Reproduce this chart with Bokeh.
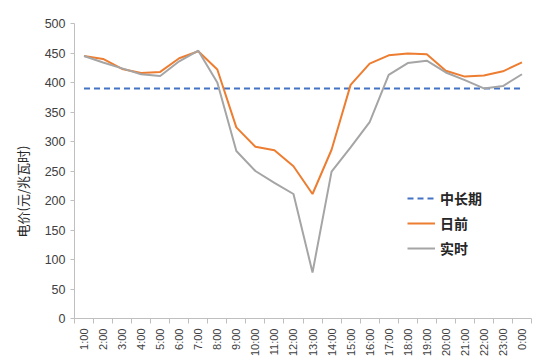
from bokeh.plotting import figure
from bokeh.models import FixedTicker, Legend, LegendItem, Range1d, Title
from bokeh.embed import file_html
from bokeh.resources import INLINE

hours = ["1:00", "2:00", "3:00", "4:00", "5:00", "6:00", "7:00", "8:00", "9:00", "10:00",
         "11:00", "12:00", "13:00", "14:00", "15:00", "16:00", "17:00", "18:00", "19:00",
         "20:00", "21:00", "22:00", "23:00", "0:00"]
mid_long = [390] * 24
day_ahead = [445, 440, 423, 416, 418, 441, 453, 422, 324, 291, 285, 258, 211, 286, 396,
             432, 446, 449, 448, 420, 410, 412, 419, 434]
real_time = [445, 434, 424, 414, 411, 436, 454, 400, 284, 250, 230, 211, 78, 249, 290,
             333, 413, 433, 437, 417, 404, 390, 394, 414]
y_ticks = [0, 50, 100, 150, 200, 250, 300, 350, 400, 450, 500]

xs = list(range(1, len(hours) + 1))

p = figure(width=537, height=360, output_backend="svg", toolbar_location=None,
           x_range=Range1d(0.5, 24.5), y_range=Range1d(0, 500),
           min_border_left=73, min_border_right=6, min_border_top=23, min_border_bottom=42)
p.outline_line_color = None
p.xgrid.visible = False
p.ygrid.visible = False

r1 = p.line(xs, mid_long, line_color="#4472C4", line_width=2, line_dash="6 4")
r2 = p.line(xs, day_ahead, line_color="#ED7D31", line_width=2)
r3 = p.line(xs, real_time, line_color="#A5A5A5", line_width=2)

FONT = "Liberation Sans"
p.xaxis.ticker = FixedTicker(ticks=xs, minor_ticks=[x - 0.5 for x in xs] + [24.5])
p.xaxis.major_label_overrides = {x: h for x, h in zip(xs, hours)}
p.xaxis.major_label_orientation = 1.5708
p.xaxis.major_tick_line_color = None
p.xaxis.minor_tick_line_color = "#BFBFBF"
p.xaxis.minor_tick_out = 5
p.xaxis.minor_tick_in = 0
p.xaxis.axis_line_color = "#BFBFBF"
p.xaxis.major_label_text_font = FONT
p.xaxis.major_label_text_font_size = "11px"
p.xaxis.major_label_text_color = "#404040"
p.xaxis.major_label_standoff = 4

p.yaxis.ticker = FixedTicker(ticks=y_ticks)
p.yaxis.minor_tick_line_color = None
p.yaxis.major_tick_line_color = "#BFBFBF"
p.yaxis.major_tick_out = 4
p.yaxis.major_tick_in = 0
p.yaxis.axis_line_color = "#BFBFBF"
p.yaxis.major_label_text_font = FONT
p.yaxis.major_label_text_font_size = "12.5px"
p.yaxis.major_label_text_color = "#404040"

ytitle = Title(text="电价(元/兆瓦时)", align="left", offset=81, standoff=20,
               text_font="Noto Sans CJK SC", text_font_size="13px",
               text_font_style="normal", text_color="#262626")
p.add_layout(ytitle, "left")

legend = Legend(items=[LegendItem(label="中长期", renderers=[r1]),
                       LegendItem(label="日前", renderers=[r2]),
                       LegendItem(label="实时", renderers=[r3])],
                location=(333, 60), border_line_color=None, background_fill_alpha=0,
                label_text_font="Noto Sans CJK SC", label_text_font_size="14px",
                label_text_font_style="bold", label_text_color="#262626",
                glyph_width=28, spacing=5, padding=4, label_standoff=5)
p.add_layout(legend)

open("out.html", "w").write(file_html(p, INLINE))
